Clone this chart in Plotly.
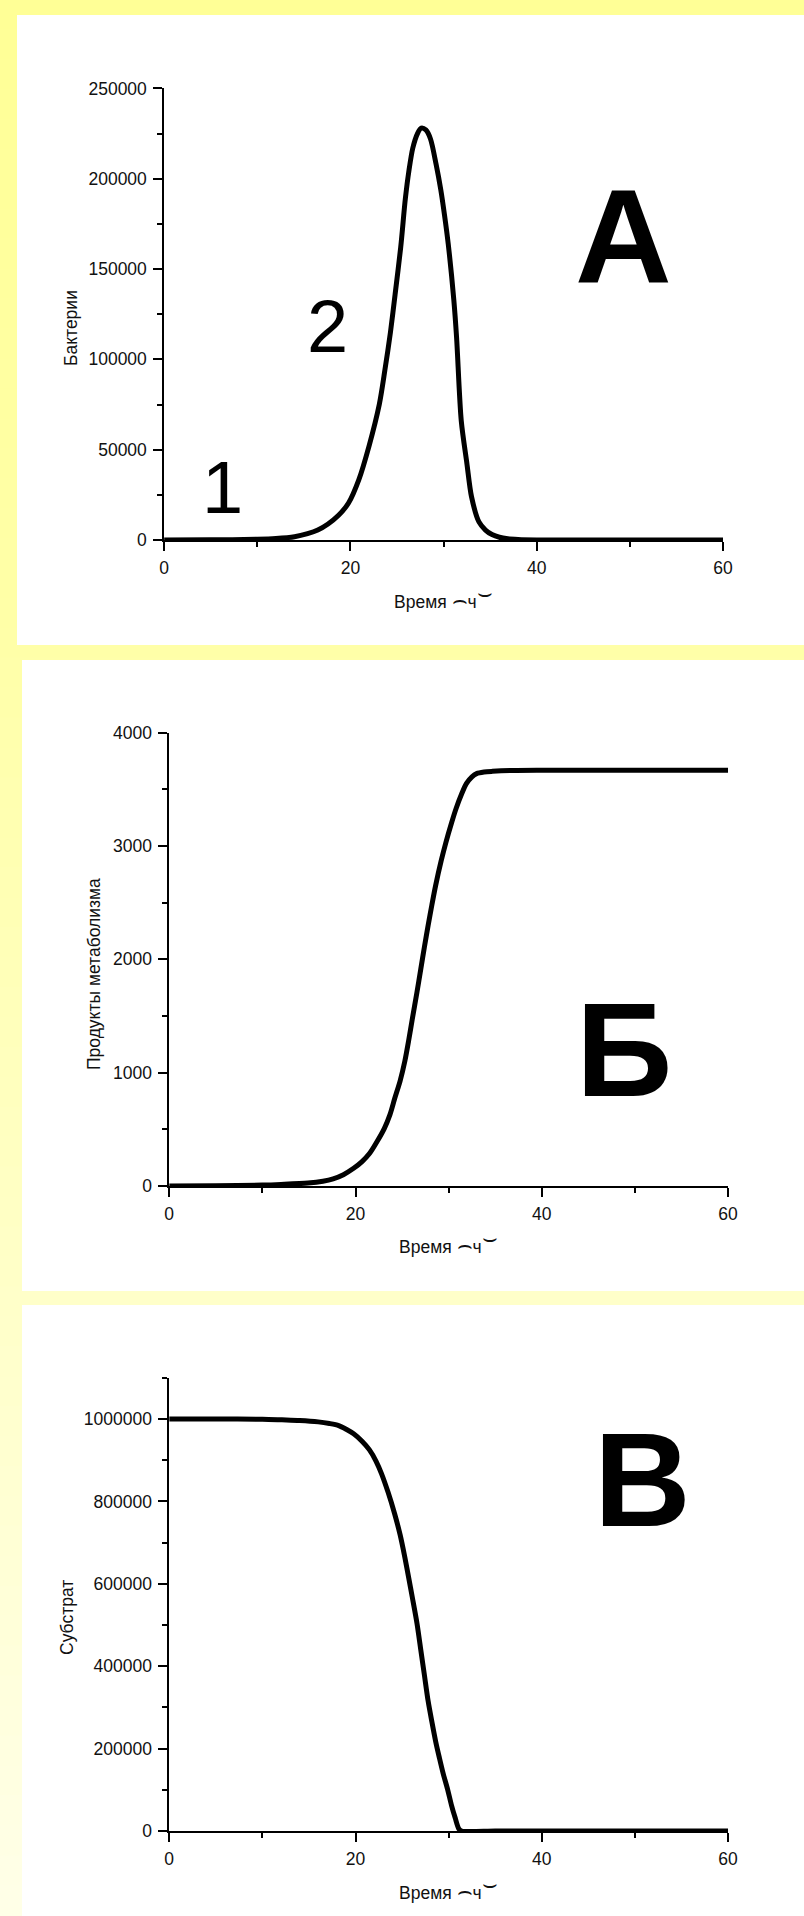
import plotly.graph_objects as go
import numpy as np

# ---------------- data ----------------
t_bact = [0, 5, 10, 12, 14, 15.4, 16.5, 17.6, 18.7, 19.8, 20.9, 22.0, 23.1, 23.7, 24.3, 24.8,
          25.4, 25.9, 26.3, 26.7, 27.2, 27.6, 28.1, 28.6, 29.2, 29.7, 30.1, 30.5, 31.1, 31.4,
          31.9, 32.5, 33.0, 33.8, 34.5, 35.2, 36.0, 36.9, 38, 40, 45, 50, 60]
bacteria = [0, 100, 400, 800, 1800, 3500, 5500, 8850, 13500, 20500, 33300, 52000, 75000, 94000,
            115000, 136000, 162000, 189000, 205000, 217000, 225000, 228000, 227000, 222000,
            208000, 194000, 180000, 164000, 133000, 112000, 66000, 42600, 24000, 10000, 5500,
            3000, 1500, 700, 300, 50, 0, 0, 0]

t_prod = [0, 5, 10, 12, 14.9, 16.5, 17.6, 18.7, 19.8, 20.7, 21.5, 22.3, 23.1, 23.7, 24.2, 24.8,
          25.3, 25.7, 26.1, 26.6, 27.0, 27.4, 27.8, 28.2, 28.6, 29.2, 29.7, 30.3, 30.8, 31.4,
          31.9, 32.5, 33.0, 33.8, 34.7, 36.9, 40, 50, 60]
products = [0, 2, 8, 14, 26, 42, 63, 100, 156, 215, 286, 390, 509, 630, 769, 930, 1103, 1280,
            1474, 1710, 1910, 2110, 2300, 2480, 2650, 2870, 3030, 3200, 3330, 3460, 3550, 3610,
            3638, 3652, 3658, 3666, 3668, 3668, 3668]

t_subs = [0, 5, 10, 12.1, 14, 16, 17.2, 18.2, 19.0, 19.8, 20.7, 21.5, 22.2, 22.8, 23.5, 24.2,
          24.8, 25.3, 25.7, 26.1, 26.6, 27.0, 27.4, 27.8, 28.2, 28.6, 29.0, 29.4, 29.9, 30.3,
          30.7, 31.1, 31.4, 35, 40, 50, 60]
substrate = [1000000, 1000000, 999500, 998000, 996500, 993000, 989000, 984000, 975000, 964000,
             946000, 925000, 898000, 867000, 822000, 770000, 718000, 664000, 616000, 567000,
             504000, 441000, 378000, 315000, 265000, 218000, 178000, 140500, 100000, 63000,
             32000, 5000, 0, 0, 0, 0, 0]

x_title = ("Время <span style='font-size:24px'>⌢</span>ч"
           "<sup><span style='font-size:24px'>⌣</span></sup>")
y_titles = ["Бактерии", "Продукты метаболизма", "Субстрат"]
panel_letters = ["А", "Б", "В"]
curve_labels = ["1", "2"]

# ---------------- figure ----------------
W, H = 804, 1916
FONT = "Liberation Sans, Arial, sans-serif"
fig = go.Figure()

line_style = dict(color="black", width=5, shape="spline", smoothing=0.8)
fig.add_trace(go.Scatter(x=t_bact, y=bacteria, mode="lines", line=line_style,
                         xaxis="x", yaxis="y", cliponaxis=False, showlegend=False))
fig.add_trace(go.Scatter(x=t_prod, y=products, mode="lines", line=line_style,
                         xaxis="x2", yaxis="y2", cliponaxis=False, showlegend=False))
fig.add_trace(go.Scatter(x=t_subs, y=substrate, mode="lines", line=line_style,
                         xaxis="x3", yaxis="y3", cliponaxis=False, showlegend=False))

def px_x(p):
    return p / W

def px_y(p):
    return 1 - p / H

# plot areas in pixels: (x0, x1, y_bottom, y_top)
areas = [(164.1, 723.0, 540.0, 88.4),
         (169.2, 728.1, 1186.0, 732.6),
         (169.2, 728.1, 1831.0, 1377.8)]
yranges = [[0, 250000], [0, 4000], [0, 1100000]]
ydticks = [50000, 1000, 200000]

axis_common = dict(showline=True, linecolor="black", linewidth=1.5, showgrid=False,
                   zeroline=False, ticks="outside", ticklen=9, tickwidth=1.5,
                   automargin=False,
                   tickcolor="black", tickfont=dict(family=FONT, size=17.5, color="#111"))

layout_axes = {}
for i, (x0, x1, yb, yt) in enumerate(areas):
    sx = "" if i == 0 else str(i + 1)
    layout_axes["xaxis" + sx] = dict(
        axis_common, domain=[px_x(x0), px_x(x1)], range=[0, 60], dtick=20,
        anchor="y" + sx, ticklabelstandoff=2,
        minor=dict(ticks="outside", ticklen=5, dtick=10, tickwidth=1.5, tickcolor="black"))
    layout_axes["yaxis" + sx] = dict(
        axis_common, domain=[px_y(yb), px_y(yt)], range=yranges[i], dtick=ydticks[i],
        anchor="x" + sx, tickformat="d", ticklabelstandoff=3,
        minor=dict(ticks="outside", ticklen=5, dtick=ydticks[i] / 2, tickwidth=1.5,
                   tickcolor="black"))

# background gradient (style only)
shapes = []
stops_y = [0, 640, 1290, 1916]
stops_b = [150, 168, 200, 232]
n_strips = 64
for k in range(n_strips):
    y0 = k * H / n_strips
    y1 = (k + 1) * H / n_strips
    b = int(round(np.interp((y0 + y1) / 2, stops_y, stops_b)))
    shapes.append(dict(type="rect", xref="paper", yref="paper", x0=0, x1=1,
                       y0=px_y(y1), y1=px_y(y0) + 0.0005, fillcolor=f"rgb(255,255,{b})",
                       line=dict(width=0), layer="below"))
# white panels
panels = [(17, 804, 15, 645), (22, 804, 660, 1291), (22, 804, 1305, 1916)]
for (x0, x1, y0, y1) in panels:
    shapes.append(dict(type="rect", xref="paper", yref="paper", x0=px_x(x0), x1=px_x(x1),
                       y0=px_y(y1), y1=px_y(y0), fillcolor="white",
                       line=dict(width=0), layer="below"))

annotations = []
# axis titles
xt_pos = [(443.5, 596), (448.6, 1241), (448.6, 1887)]
yt_pos = [(71, 328), (94, 974), (67, 1618)]
for i in range(3):
    annotations.append(dict(text=x_title, xref="paper", yref="paper",
                            x=px_x(xt_pos[i][0]), y=px_y(xt_pos[i][1]),
                            xanchor="center", yanchor="middle", showarrow=False,
                            font=dict(family=FONT, size=17.5, color="#111")))
    annotations.append(dict(text=y_titles[i], xref="paper", yref="paper",
                            x=px_x(yt_pos[i][0]), y=px_y(yt_pos[i][1]),
                            xanchor="center", yanchor="middle", showarrow=False,
                            textangle=-90,
                            font=dict(family=FONT, size=17.5, color="#111")))
# big panel letters
let_pos = [(623, 236), (624, 1049), (642, 1479)]
for i in range(3):
    annotations.append(dict(text="<b>" + panel_letters[i] + "</b>", xref="paper", yref="paper",
                            x=px_x(let_pos[i][0]), y=px_y(let_pos[i][1]),
                            xanchor="center", yanchor="middle", showarrow=False,
                            font=dict(family=FONT, size=134, color="black")))
# curve labels
lab_pos = [(222, 488), (327, 327)]
for i in range(2):
    annotations.append(dict(text=curve_labels[i], xref="paper", yref="paper",
                            x=px_x(lab_pos[i][0]), y=px_y(lab_pos[i][1]),
                            xanchor="center", yanchor="middle", showarrow=False,
                            font=dict(family=FONT, size=74, color="black")))

fig.update_layout(width=W, height=H, margin=dict(l=0, r=0, t=0, b=0, pad=0, autoexpand=False),
                  paper_bgcolor="white", plot_bgcolor="rgba(0,0,0,0)",
                  shapes=shapes, annotations=annotations, showlegend=False,
                  **layout_axes)

fig.write_html("out.html",
               config={"displayModeBar": False},
               post_script="document.body.style.margin='0';"
                           "document.body.style.padding='0';"
                           "document.body.style.overflow='hidden';")
